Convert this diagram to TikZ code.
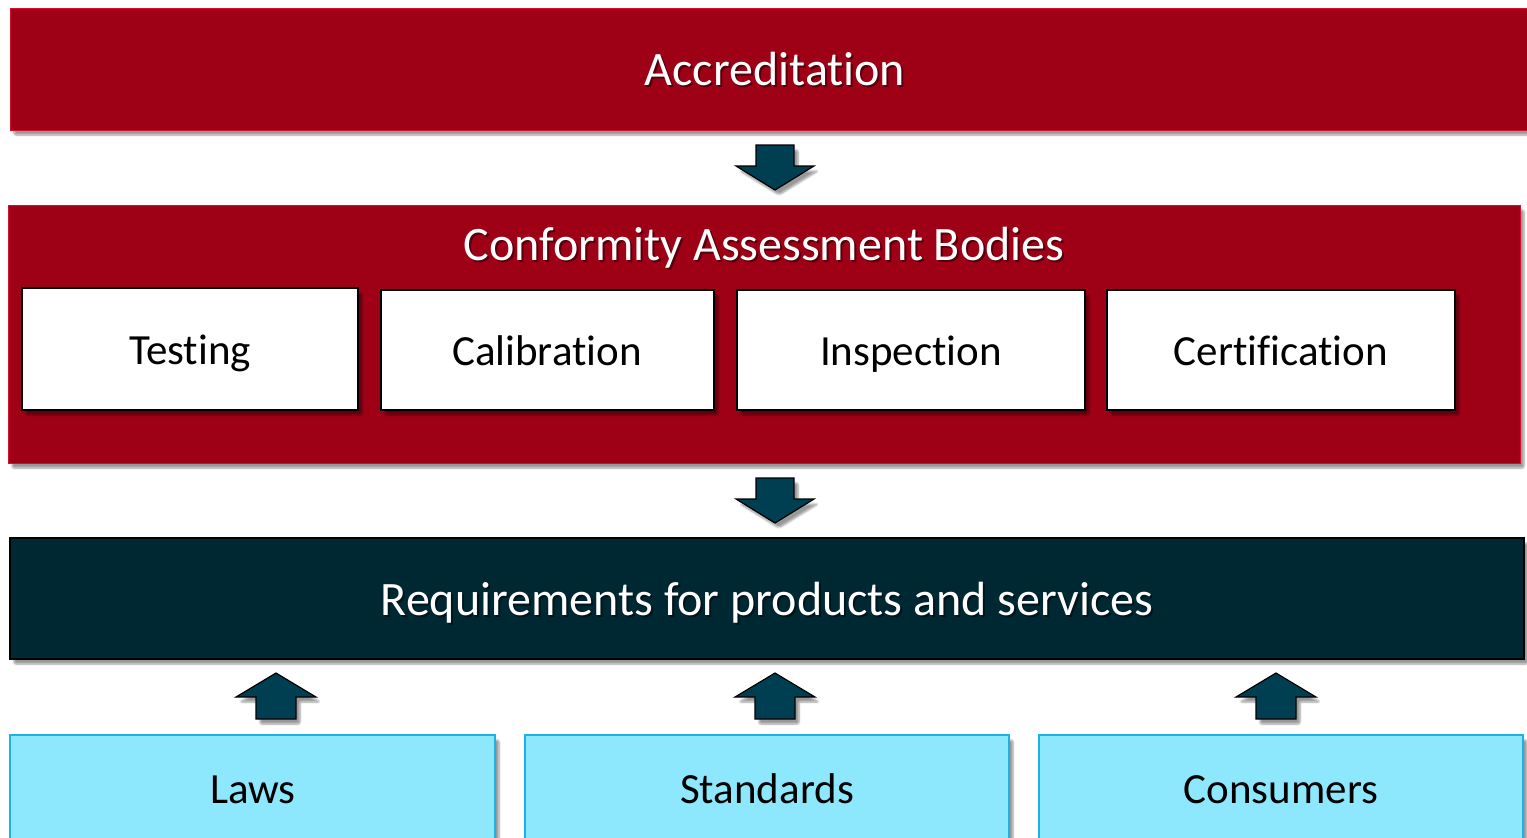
\documentclass[tikz,border=0pt]{standalone}
\usepackage{fontspec}
\setmainfont{Carlito}[Ligatures={NoCommon}]
\usetikzlibrary{shadows.blur}
\definecolor{accred}{HTML}{9E0016}
\definecolor{accredline}{HTML}{D4102E}
\definecolor{reqfill}{HTML}{002833}
\definecolor{arrowfill}{HTML}{003F52}
\definecolor{lightfill}{HTML}{8DE7FD}
\definecolor{lightline}{HTML}{1BB3E6}
\tikzset{
  shd/.style={blur shadow={shadow xshift=4pt, shadow yshift=-5pt, shadow blur steps=6, shadow blur extra rounding=2pt, shadow opacity=40}},
  redbox/.style={shd, fill=accred, draw=accredline, line width=1pt},
  whitebox/.style={shd, fill=white, draw=black, line width=1.5pt},
  reqbox/.style={shd, fill=reqfill, draw=black, line width=2pt},
  lightbox/.style={shd, fill=lightfill, draw=lightline, line width=1.5pt},
  bigfont/.style={font=\fontsize{48}{56}\selectfont, anchor=base, inner sep=0pt},
  bigtext/.style={bigfont, text=white},
  bigshadow/.style={bigfont, text=black, opacity=0.45},
  boxtext/.style={text=black, font=\fontsize{43}{50}\selectfont, anchor=base, inner sep=0pt},
  arr/.style={shd, fill=arrowfill, draw=black, line width=1.2pt, line join=miter},
}
\begin{document}
\begin{tikzpicture}[x=1pt,y=-1pt]
\useasboundingbox (0,0) rectangle (1527,838);
% Accreditation
\draw[redbox] (10,8) rectangle (1530,130);
\node[bigshadow] (accs) at (777,87) {Accreditation};
\node[bigtext] (acc) at (775,85) {Accreditation};
% CAB
\draw[redbox] (8,205) rectangle (1520,463);
\node[bigshadow] (cabs) at (766,262) {Conformity Assessment Bodies};
\node[bigtext] (cab) at (764,260) {Conformity Assessment Bodies};
\draw[whitebox] (22,288) rectangle (358,410);
\node[boxtext] (testing) at (190,364) {Testing};
\draw[whitebox] (381,290) rectangle (714,410);
\node[boxtext] (calib) at (547,365) {Calibration};
\draw[whitebox] (737,290) rectangle (1085,410);
\node[boxtext] (insp) at (911,365) {Inspection};
\draw[whitebox] (1107,290) rectangle (1455,410);
\node[boxtext] (cert) at (1281,365) {Certification};
% Requirements
\draw[reqbox] (10,538) rectangle (1524,659);
\node[bigshadow] (reqs) at (769,617) {Requirements for products and services};
\node[bigtext] (req) at (767,615) {Requirements for products and services};
% Bottom boxes
\draw[lightbox] (10,735) rectangle (495,850);
\node[boxtext] (laws) at (253,803) {Laws};
\draw[lightbox] (525,735) rectangle (1009,850);
\node[boxtext] (std) at (767,803) {Standards};
\draw[lightbox] (1039,735) rectangle (1523,850);
\node[boxtext] (cons) at (1281,803) {Consumers};
% Down arrows
\foreach \y in {145,478}{
  \draw[arr] (756,\y) -- (794,\y) -- (794,\y+21) -- (814,\y+21) -- (775,\y+45) -- (736,\y+21) -- (756,\y+21) -- cycle;
}
% Up arrows
\foreach \x in {276,775,1276}{
  \draw[arr] (\x-20,719) -- (\x+20,719) -- (\x+20,697) -- (\x+40,697) -- (\x,673) -- (\x-40,697) -- (\x-20,697) -- cycle;
}
\end{tikzpicture}
\end{document}
